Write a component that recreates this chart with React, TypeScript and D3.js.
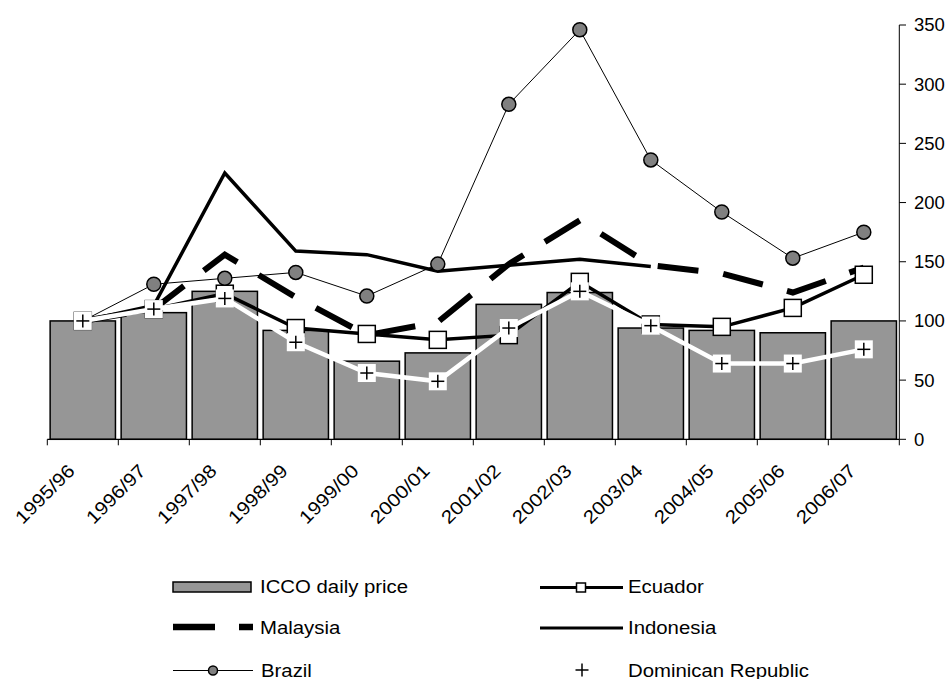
import React from "react";
import * as d3 from "d3";

const categories = ["1995/96","1996/97","1997/98","1998/99","1999/00","2000/01","2001/02","2002/03","2003/04","2004/05","2005/06","2006/07"];
const icco = [100, 107, 125, 92, 66, 73, 114, 124, 94, 92, 90, 100];
const ecuador = [100, 110, 123, 94, 89, 84, 88, 133, 97, 95, 111, 139];
const malaysia = [100, 110, 156, 120, 88, 99, 148, 185, 147, 140, 124, 145];
const indonesia: (number | null)[] = [100, 113, 225, 159, 156, 142, 147, 152, 146, null, null, null];
const brazil = [100, 131, 136, 141, 121, 148, 283, 346, 236, 192, 153, 175];
const dominican = [100, 110, 119, 82, 56, 49, 94, 125, 96, 64, 64, 76];
const yTicks = [0, 50, 100, 150, 200, 250, 300, 350];

const W = 948, H = 679;
const FONT = "'Liberation Sans', Arial, sans-serif";

export default function App() {
  const x = d3.scaleBand<string>().domain(categories).range([47.3, 899.3]).paddingInner(0.08).paddingOuter(0.04);
  const xb = d3.scaleBand<string>().domain(categories).range([47.3, 899.3]);
  const y = d3.scaleLinear().domain([0, 350]).range([439.3, 25]);
  const cx = (c: string) => (xb(c) as number) + xb.bandwidth() / 2;

  const line = d3.line<number | null>()
    .defined((d) => d != null)
    .x((_, i) => cx(categories[i]))
    .y((d) => y(d as number));

  const boundaries = categories.map((c) => xb(c) as number).concat([899.3]);

  return (
    <svg width={W} height={H} style={{ position: "absolute", left: 0, top: 0, background: "#fff" }} fontFamily={FONT}>
      {/* bars */}
      {categories.map((c, i) => (
        <rect key={c} x={x(c)} y={y(icco[i])} width={x.bandwidth()} height={y(0) - y(icco[i])}
          fill="#969696" stroke="#000" strokeWidth={1.5} />
      ))}
      {/* x axis */}
      <line x1={47.3} x2={899.3} y1={y(0)} y2={y(0)} stroke="#000" strokeWidth={1.2} />
      {boundaries.map((b, i) => (
        <line key={i} x1={b} x2={b} y1={y(0)} y2={y(0) + 6} stroke="#000" strokeWidth={1} />
      ))}
      {/* y axis right */}
      <line x1={899.3} x2={899.3} y1={y(350)} y2={y(0)} stroke="#000" strokeWidth={1} />
      {yTicks.map((t) => (
        <g key={t}>
          <line x1={899.3} x2={906} y1={y(t)} y2={y(t)} stroke="#000" strokeWidth={1} />
          <text x={914} y={y(t)} dy="0.35em" fontSize={18.5} fill="#000">{t}</text>
        </g>
      ))}
      {/* x labels */}
      {categories.map((c) => (
        <text key={c} transform={`translate(${cx(c) - 7},472) rotate(-45) scale(1.12,1)`} textAnchor="end"
          fontSize={18.5} fill="#000">{c}</text>
      ))}

      {/* Ecuador */}
      <path d={line(ecuador) || ""} fill="none" stroke="#000" strokeWidth={3.5} strokeLinejoin="miter" />
      {/* Malaysia */}
      <path d={line(malaysia) || ""} fill="none" stroke="#000" strokeWidth={6} strokeDasharray="41,25" strokeDashoffset={63} />
      {/* Indonesia */}
      <path d={line(indonesia) || ""} fill="none" stroke="#000" strokeWidth={3.5} />
      {ecuador.map((v, i) => (
        <rect key={i} x={cx(categories[i]) - 8.5} y={y(v) - 8.5} width={17} height={17} fill="#fff" stroke="#000" strokeWidth={1.5} />
      ))}
      {/* Brazil */}
      <path d={line(brazil) || ""} fill="none" stroke="#000" strokeWidth={1} />
      {brazil.map((v, i) => (
        <circle key={i} cx={cx(categories[i])} cy={y(v)} r={7} fill="#808080" stroke="#000" strokeWidth={1.5} />
      ))}
      {/* Dominican Republic */}
      <path d={line(dominican) || ""} fill="none" stroke="#fff" strokeWidth={4.5} />
      {dominican.map((v, i) => {
        const px = cx(categories[i]), py = y(v);
        return (
          <g key={i}>
            <rect x={px - 9} y={py - 9} width={18} height={18} fill="#fff" />
            <line x1={px - 6.5} x2={px + 6.5} y1={py} y2={py} stroke="#000" strokeWidth={1.5} />
            <line x1={px} x2={px} y1={py - 6.5} y2={py + 6.5} stroke="#000" strokeWidth={1.5} />
          </g>
        );
      })}

      {/* legend */}
      <g fontSize={18.5} fill="#000">
        <rect x={173} y={582} width={78} height={10} fill="#969696" stroke="#000" strokeWidth={1.5} />
        <text transform="translate(260,593) scale(1.1,1)">ICCO daily price</text>

        <line x1={173} x2={253} y1={627} y2={627} stroke="#000" strokeWidth={6.5} strokeDasharray="42,24" />
        <text transform="translate(260,633.5) scale(1.1,1)">Malaysia</text>

        <line x1={173} x2={253} y1={670.5} y2={670.5} stroke="#000" strokeWidth={1} />
        <circle cx={213} cy={670.5} r={4.5} fill="#808080" stroke="#000" strokeWidth={1.5} />
        <text transform="translate(261,677) scale(1.1,1)">Brazil</text>

        <line x1={540} x2={623} y1={587.5} y2={587.5} stroke="#000" strokeWidth={3} />
        <rect x={576.5} y={583} width={9} height={9} fill="#fff" stroke="#000" strokeWidth={1.5} />
        <text transform="translate(628,593) scale(1.1,1)">Ecuador</text>

        <line x1={540} x2={623} y1={628} y2={628} stroke="#000" strokeWidth={3} />
        <text transform="translate(628,633.5) scale(1.1,1)">Indonesia</text>

        <line x1={575.5} x2={588.5} y1={670} y2={670} stroke="#000" strokeWidth={1.5} />
        <line x1={582} x2={582} y1={663.5} y2={676.5} stroke="#000" strokeWidth={1.5} />
        <text transform="translate(628,677) scale(1.1,1)">Dominican Republic</text>
      </g>
    </svg>
  );
}
